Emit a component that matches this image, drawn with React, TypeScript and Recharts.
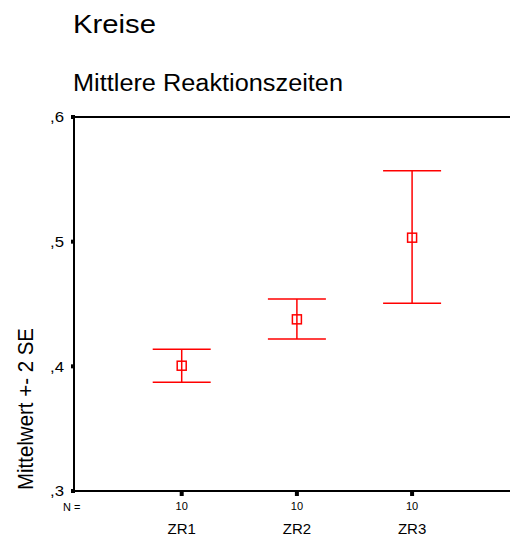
import React from 'react';
import { ComposedChart, Scatter, ErrorBar, XAxis, YAxis, ReferenceLine } from 'recharts';

const categories = ['ZR1', 'ZR2', 'ZR3'];
const nValues = [10, 10, 10];
const means = [0.4005, 0.4377, 0.5032];
const upperBounds = [0.4137, 0.454, 0.5569];
const lowerBounds = [0.3872, 0.4219, 0.4506];
const yTicks = [0.3, 0.4, 0.5, 0.6];
const yTickLabels = [',3', ',4', ',5', ',6'];

const data = categories.map((c, i) => ({
  pos: i + 1,
  name: c,
  n: nValues[i],
  mean: means[i],
  err: [means[i] - lowerBounds[i], upperBounds[i] - means[i]],
}));

const FONT = '"Liberation Sans", Arial, Helvetica, sans-serif';
const RED = '#ff0000';

const SquareShape = (props: any) => {
  const { cx, cy } = props;
  if (cx == null || cy == null) return null;
  return <rect x={cx - 4.5} y={cy - 4.5} width={9} height={9} fill="none" stroke={RED} strokeWidth={1.5} />;
};

const YTick = (props: any) => {
  const { x, y, payload } = props;
  const idx = yTicks.indexOf(payload.value);
  return (
    <g>
      <rect x={x - 3} y={y - 2} width={4} height={4} fill="#000" />
      <text x={x - 10} y={y} dy="0.36em" textAnchor="end" fontFamily={FONT} fontSize={15} fill="#000" textLength={14} lengthAdjust="spacingAndGlyphs">
        {idx >= 0 ? yTickLabels[idx] : ''}
      </text>
    </g>
  );
};

const XTick = (props: any) => {
  const { x, y, payload } = props;
  const i = Math.round(payload.value) - 1;
  return (
    <g>
      <rect x={x - 2} y={y + 1} width={4} height={4} fill="#000" />
      <text x={x} y={y + 15} dy="0.36em" textAnchor="middle" fontFamily={FONT} fontSize={11} fill="#000">
        {nValues[i]}
      </text>
      <text x={x} y={y + 38} dy="0.36em" textAnchor="middle" fontFamily={FONT} fontSize={15} fill="#000">
        {categories[i]}
      </text>
    </g>
  );
};

export default function App() {
  return (
    <div style={{ position: 'absolute', left: 0, top: 0, width: 511, height: 538, background: '#fff' }}>
      <ComposedChart
        width={511}
        height={538}
        data={data}
        margin={{ top: 117, right: 1, bottom: 0, left: 0 }}
      >
        <XAxis
          dataKey="pos"
          type="number"
          domain={[0.065, 3.85]}
          ticks={[1, 2, 3]}
          allowDataOverflow
          height={47}
          tickSize={0}
          tickMargin={0}
          tickLine={false}
          axisLine={{ stroke: '#000', strokeWidth: 2 }}
          tick={<XTick />}
        />
        <YAxis
          type="number"
          domain={[0.3, 0.6]}
          ticks={yTicks}
          allowDataOverflow
          width={74}
          tickSize={0}
          tickMargin={0}
          tickLine={false}
          axisLine={{ stroke: '#000', strokeWidth: 2 }}
          tick={<YTick />}
        />
        <ReferenceLine y={0.6} stroke="#000" strokeWidth={2} ifOverflow="visible" />
        <Scatter dataKey="mean" shape={<SquareShape />} isAnimationActive={false}>
          <ErrorBar dataKey="err" direction="y" width={29} stroke={RED} strokeWidth={1.5} isAnimationActive={false} />
        </Scatter>
      </ComposedChart>
      <svg width={511} height={538} style={{ position: 'absolute', left: 0, top: 0, pointerEvents: 'none' }}>
        <text x={73} y={33} fontFamily={FONT} fontSize={26} fill="#000" textLength={83} lengthAdjust="spacingAndGlyphs">Kreise</text>
        <text x={73} y={91} fontFamily={FONT} fontSize={23.5} fill="#000" textLength={270} lengthAdjust="spacingAndGlyphs">Mittlere Reaktionszeiten</text>
        <text x={63} y={507} dy="0.36em" fontFamily={FONT} fontSize={11} fill="#000">N =</text>
        <text x={0} y={0} transform="translate(33,409) rotate(-90)" textAnchor="middle" fontFamily={FONT} fontSize={22.5} fill="#000" textLength={162} lengthAdjust="spacingAndGlyphs">Mittelwert +- 2 SE</text>
      </svg>
    </div>
  );
}
